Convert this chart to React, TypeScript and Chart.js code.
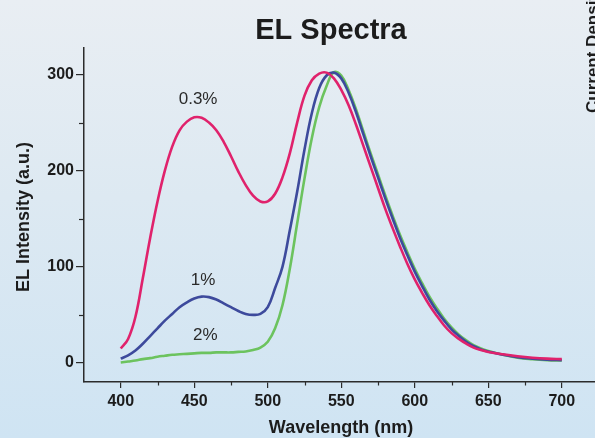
import React, { useEffect, useRef } from "react";
import { Chart, registerables } from "chart.js";

Chart.register(...registerables);

// Wavelength grid (nm)
const wavelengths = [
  400, 405, 410, 415, 420, 425, 430, 435, 440, 445, 450, 455, 460, 465, 470, 475,
  480, 485, 490, 495, 500, 505, 510, 515, 520, 525, 530, 535, 540, 545, 550, 555,
  560, 565, 570, 575, 580, 585, 590, 595, 600, 605, 610, 615, 620, 625, 630, 635,
  640, 645, 650, 660, 670, 680, 690, 700,
];

// 0.3% doping
const series03 = [
  15, 25, 48, 88, 130, 168, 200, 225, 242, 251, 255.5, 255, 250, 242, 230, 215,
  199, 185, 174, 168, 168, 176, 193, 218, 250, 278, 294, 301, 302, 296, 284, 268,
  248, 226, 204, 182, 160, 140, 121, 103, 87, 73, 60, 49, 39, 31, 25, 20,
  16, 13.5, 11.5, 9, 7, 5.5, 4.5, 4,
];

// 1% doping
const series1 = [
  4.5, 8, 13, 20, 28, 36, 44, 51, 58, 63, 67, 69, 68.5, 66, 62, 58,
  54, 51, 50, 51, 58, 78, 100, 138, 178, 222, 260, 286, 299, 302, 296, 281,
  261, 238, 215, 193, 171, 150, 130, 112, 95, 80, 66, 54, 44, 35, 28, 22,
  17.5, 14, 12, 8.5, 6, 4.5, 3.5, 3,
];

// 2% doping
const series2 = [
  0.5, 1.5, 2.5, 4, 5, 6.5, 7.5, 8.5, 9, 9.5, 10, 10.5, 10.5, 11, 11, 11,
  11.5, 12, 13.5, 16, 22, 36, 60, 98, 145, 192, 234, 266, 288, 302.5, 299, 284,
  264, 241, 218, 196, 174, 153, 133, 115, 98, 83, 69, 57, 46, 37, 29.5, 23.5,
  18.5, 15, 12.5, 8.5, 5.5, 4, 3, 2.5,
];

const seriesNames = ["0.3%", "1%", "2%"];
const seriesColors = ["#e0226c", "#3d4a9c", "#6cc35e"];

// Curve labels, placed in data coordinates
const labelWavelengths = [452.6, 456, 457.5];
const labelValues = [274.5, 85.5, 28.5];

const xTickLabels = [400, 450, 500, 550, 600, 650, 700];
const xMinorTicks = [425, 475, 525, 575, 625, 675, 725];
const yTickLabels = [0, 100, 200, 300];
const yMinorTicks = [50, 150, 250];

const FONT = '"Liberation Sans", Arial, Helvetica, sans-serif';
const AXIS = "#2b2b2b";
const TEXT = "#1c1c1c";

export default function App() {
  const canvasRef = useRef<HTMLCanvasElement | null>(null);

  useEffect(() => {
    const canvas = canvasRef.current;
    if (!canvas) return;

    const textPlugin = {
      id: "extraText",
      afterDraw(chart: any) {
        const ctx = chart.ctx as CanvasRenderingContext2D;
        const xs = chart.scales.x;
        const ys = chart.scales.y;
        const area = chart.chartArea;
        ctx.save();

        // minor ticks
        ctx.strokeStyle = AXIS;
        ctx.lineWidth = 1.2;
        xMinorTicks.forEach((v) => {
          if (v < xs.min || v > xs.max) return;
          const px = Math.round(xs.getPixelForValue(v)) + 0.5;
          ctx.beginPath();
          ctx.moveTo(px, area.bottom);
          ctx.lineTo(px, area.bottom + 3.5);
          ctx.stroke();
        });
        yMinorTicks.forEach((v) => {
          const py = Math.round(ys.getPixelForValue(v)) + 0.5;
          ctx.beginPath();
          ctx.moveTo(area.left, py);
          ctx.lineTo(area.left - 5, py);
          ctx.stroke();
        });

        // title
        ctx.fillStyle = TEXT;
        ctx.textAlign = "center";
        ctx.textBaseline = "alphabetic";
        ctx.font = `bold 29px ${FONT}`;
        ctx.fillText("EL Spectra", 331, 39);

        // x axis title
        ctx.font = `bold 18px ${FONT}`;
        ctx.fillText("Wavelength (nm)", 341, 433);

        // y axis title
        ctx.save();
        ctx.translate(29, 217);
        ctx.rotate(-Math.PI / 2);
        ctx.fillText("EL Intensity (a.u.)", 0, 0);
        ctx.restore();

        // neighbouring panel's axis title (cut by the edge)
        ctx.save();
        ctx.translate(598, 113);
        ctx.rotate(-Math.PI / 2);
        ctx.textAlign = "left";
        ctx.font = `bold 17px ${FONT}`;
        ctx.fillText("Current Density", 0, 0);
        ctx.restore();

        // curve labels
        ctx.font = `17px ${FONT}`;
        ctx.fillStyle = "#2a2a2a";
        ctx.textBaseline = "middle";
        seriesNames.forEach((name, i) => {
          const px = xs.getPixelForValue(labelWavelengths[i]);
          const py = ys.getPixelForValue(labelValues[i]);
          ctx.fillText(name, px, py);
        });

        ctx.restore();
      },
    };

    const datasets = [series03, series1, series2].map((vals, i) => ({
      label: seriesNames[i],
      data: wavelengths.map((w, k) => ({ x: w, y: vals[k] })),
      borderColor: seriesColors[i],
      backgroundColor: seriesColors[i],
      borderWidth: 2.6,
      pointRadius: 0,
      tension: 0.4,
      fill: false,
    }));

    const chart = new Chart(canvas, {
      type: "line",
      data: { datasets },
      options: {
        responsive: false,
        animation: false,
        layout: { padding: { top: 48, left: 0, right: 0, bottom: 0 } },
        plugins: {
          legend: { display: false },
          tooltip: { enabled: false },
          title: { display: false },
        },
        scales: {
          x: {
            type: "linear",
            min: 375,
            max: 722.6,
            afterBuildTicks: (s: any) => {
              s.ticks = xTickLabels.map((v) => ({ value: v }));
            },
            afterFit: (s: any) => {
              s.height = 56;
            },
            border: { display: true, color: AXIS, width: 1.5 },
            grid: {
              display: true,
              drawOnChartArea: false,
              drawTicks: true,
              tickLength: 6,
              color: AXIS,
              lineWidth: 1.2,
            },
            ticks: {
              autoSkip: false,
              maxRotation: 0,
              padding: 4,
              color: TEXT,
              font: { family: FONT, size: 16, weight: "bold" },
              callback: (v: any) => String(v),
            },
          },
          y: {
            type: "linear",
            min: -19.8,
            max: 327.6,
            afterBuildTicks: (s: any) => {
              s.ticks = yTickLabels.map((v) => ({ value: v }));
            },
            afterFit: (s: any) => {
              s.width = 84;
            },
            border: { display: true, color: AXIS, width: 1.5 },
            grid: {
              display: true,
              drawOnChartArea: false,
              drawTicks: true,
              tickLength: 8,
              color: AXIS,
              lineWidth: 1.2,
            },
            ticks: {
              autoSkip: false,
              padding: 2,
              color: TEXT,
              font: { family: FONT, size: 16, weight: "bold" },
              callback: (v: any) => String(v),
            },
          },
        },
      },
      plugins: [textPlugin],
    } as any);

    return () => {
      chart.destroy();
    };
  }, []);

  return (
    <div
      style={{
        position: "absolute",
        left: 0,
        top: 0,
        width: 595,
        height: 438,
        overflow: "hidden",
        background: "linear-gradient(180deg, #e9eef3 0%, #dde9f2 45%, #cfe4f3 100%)",
      }}
    >
      <canvas ref={canvasRef} width={595} height={438} style={{ display: "block" }} />
    </div>
  );
}
